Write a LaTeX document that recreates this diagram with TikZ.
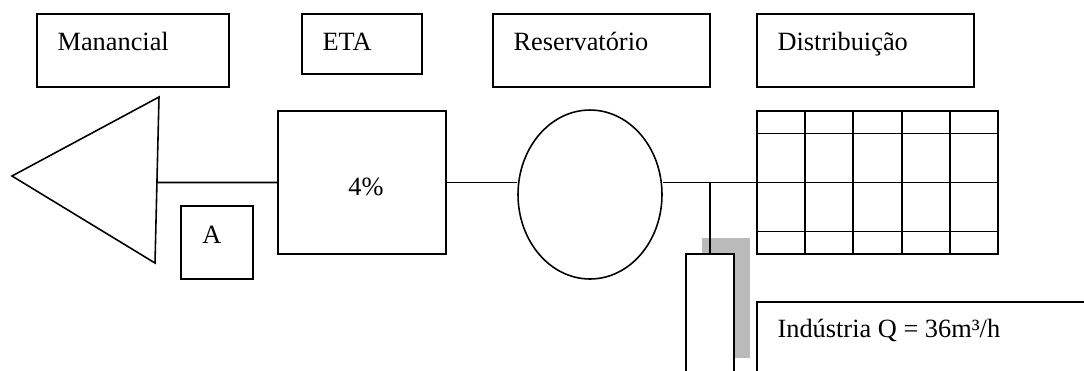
\documentclass[tikz,border=0pt]{standalone}
\usepackage{fontspec}
\setmainfont{Liberation Serif}
\usepackage{tikz}
\usetikzlibrary{positioning,shapes.geometric,calc,shadows}

\begin{document}
\begin{tikzpicture}[
    x=0.02cm, y=-0.02cm,
    unit/.style={rectangle, draw, line width=0.9pt, inner sep=0pt},
    tag/.style={font=\fontsize{15}{18}\selectfont, inner sep=0pt, anchor=base west},
    pipe/.style={line width=0.9pt}
]
\clip (0,0) rectangle (1084,370);

% --- Top row: stage titles ---
\node[unit, minimum width=3.84cm, minimum height=1.46cm] (man) at (133,50.5)   {};
\node[unit, minimum width=2.4cm,  minimum height=1.2cm]  (eta) at (362,44)     {};
\node[unit, minimum width=4.34cm, minimum height=1.46cm] (res) at (601.5,50.5) {};
\node[unit, minimum width=4.34cm, minimum height=1.46cm] (dis) at (865.5,50.5) {};

\node[tag] (mantxt) at ([shift={(21,37)}]man.north west) {Manancial};
\node[tag] (etatxt) at ([shift={(21,37)}]eta.north west) {ETA};
\node[tag] (restxt) at ([shift={(21,37)}]res.north west) {Reservatório};
\node[tag] (distxt) at ([shift={(21,37)}]dis.north west) {Distribuição};

% --- Source (triangle) ---
\coordinate (apex)   at (12,176);
\coordinate (tritop) at (159,97);
\coordinate (tribot) at (155,263);
\draw[pipe] (apex) -- (tritop) -- (tribot) -- cycle;
\coordinate (src) at ($(tritop)!0.515!(tribot)$);

% --- Treatment, tank and network ---
\node[unit, minimum width=3.36cm, minimum height=2.86cm] (treat) at (362,182.5) {};
\node[tag, anchor=base] (treattxt) at ([shift={(4,12.5)}]treat.center) {4\%};

\node[unit, minimum width=1.44cm, minimum height=1.46cm] (abox) at (217,242.5) {};
\node[tag, anchor=base] (atxt) at ([shift={(-5,0.5)}]abox.center) {A};

\node[ellipse, draw, line width=0.9pt, inner sep=0pt,
      minimum width=2.88cm, minimum height=3.38cm] (tank) at (590,194.5) {};

\node[unit, minimum width=4.82cm, minimum height=2.86cm] (net) at (877.5,182.5) {};
\foreach \k in {1,...,4}
  \draw[pipe] ($(net.north west)!\k/5!(net.north east)$) -- ($(net.south west)!\k/5!(net.south east)$);
\foreach \f in {0.16,0.5,0.84}
  \draw[pipe] ($(net.north west)!\f!(net.south west)$) -- ($(net.north east)!\f!(net.south east)$);

% --- Industry branch ---
\node[unit, fill=white, minimum width=0.96cm, minimum height=2.4cm,
      drop shadow={opacity=1, fill=black!27, shadow xshift=0.32cm, shadow yshift=0.32cm}]
      (plant) at (710,314) {};

\node[unit, minimum width=6.86cm, minimum height=1.96cm] (ind) at (928.5,351) {};
\node[tag] (indtxt) at ([shift={(21,36)}]ind.north west) {Indústria Q = 36m³/h};

% --- Pipes ---
\draw[pipe] (src) -- (treat.west);
\draw[pipe] (treat.east) -- (treat.east -| tank.west);
\draw[pipe] (tank.east |- net.west) -- (net.west);
\draw[pipe] (plant.north |- net.west) -- (plant.north);
\end{tikzpicture}
\end{document}
